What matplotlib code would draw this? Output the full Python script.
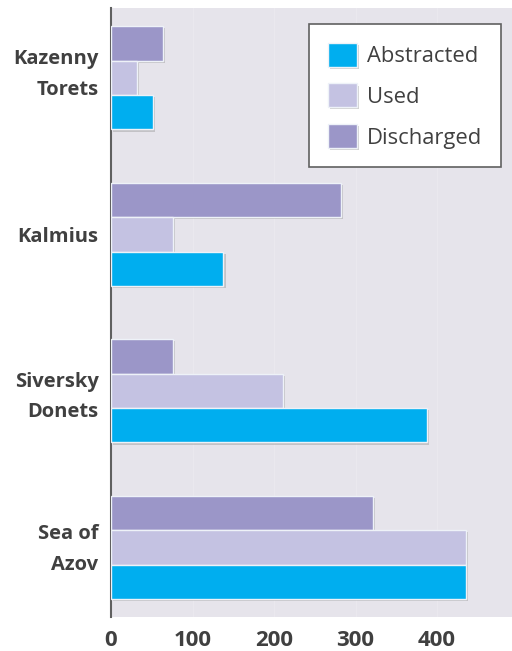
import matplotlib
matplotlib.use("Agg")
import matplotlib.pyplot as plt
import matplotlib.patheffects as pe
import numpy as np

categories = ["Kazenny\nTorets", "Kalmius", "Siversky\nDonets", "Sea of\nAzov"]
abstracted = [52, 138, 388, 435]
used = [32, 76, 211, 435]
discharged = [64, 282, 76, 321]
series_names = ["Abstracted", "Used", "Discharged"]
xticks = [0, 100, 200, 300, 400]

# label vertical nudges (points), styling only
label_dy = [2.3, -2.0, -4.3, -1.4]

colors = {"Abstracted": "#00aeef", "Used": "#c4c2e2", "Discharged": "#9b96c8"}
txt = "#404040"
plt.rcParams['font.family'] = ['Open Sans', 'DejaVu Sans']

fig = plt.figure(figsize=(5.12, 6.51), dpi=100)
ax = fig.add_axes([111/512, 1-617/651, 1-111/512, (617-8)/651])
ax.set_facecolor("#e6e4eb")

y = np.arange(len(categories))
h = 0.22
shadow = [pe.SimplePatchShadow(offset=(1.5, -1.5), shadow_rgbFace="#999999", alpha=0.45), pe.Normal()]
for vals, name, off in [(discharged, "Discharged", -h), (used, "Used", 0.0), (abstracted, "Abstracted", h)]:
    bars = ax.barh(y + off, vals, height=h, color=colors[name], edgecolor="#eef2f8",
                   linewidth=1.0, label=name, zorder=3)
    for b in bars:
        b.set_path_effects(shadow)

ax.set_ylim(3.445, -0.446)
ax.set_xlim(0, 492)
ax.set_yticks(y)
ax.set_yticklabels([])
ax.set_xticks(xticks)
ax.set_xticklabels([str(v) for v in xticks], fontsize=16, fontweight='bold', color=txt)
ax.tick_params(axis='y', length=0)
ax.tick_params(axis='x', length=0, pad=9)

ytrans = ax.get_yaxis_transform()
for yi, lab, dy in zip(y, categories, label_dy):
    ax.annotate(lab, xy=(0, yi), xycoords=ytrans, xytext=(-9, dy), textcoords="offset points",
                ha="right", va="center", multialignment="right", fontsize=14.5,
                fontweight="bold", color=txt, linespacing=1.7, annotation_clip=False)

for xv in xticks[1:]:
    ax.axvline(xv, color="#eae8ee", lw=1.0, zorder=1)

for s in ["top", "right", "bottom"]:
    ax.spines[s].set_visible(False)
ax.spines["left"].set_color("#606060")
ax.spines["left"].set_linewidth(1.5)

handles, labels = ax.get_legend_handles_labels()
order = [labels.index(n) for n in series_names]
leg = ax.legend([handles[i] for i in order], [labels[i] for i in order],
                loc="upper right", bbox_to_anchor=(0.9726, 0.9737), borderaxespad=0,
                fontsize=15.8, labelcolor=txt, fancybox=False, framealpha=1,
                edgecolor="#606060", handlelength=1.35, handleheight=1.3,
                labelspacing=0.75, handletextpad=0.45, borderpad=0.85)
leg.get_frame().set_linewidth(1.2)
leg.set_zorder(5)

fig.savefig("out.png", dpi=100)
